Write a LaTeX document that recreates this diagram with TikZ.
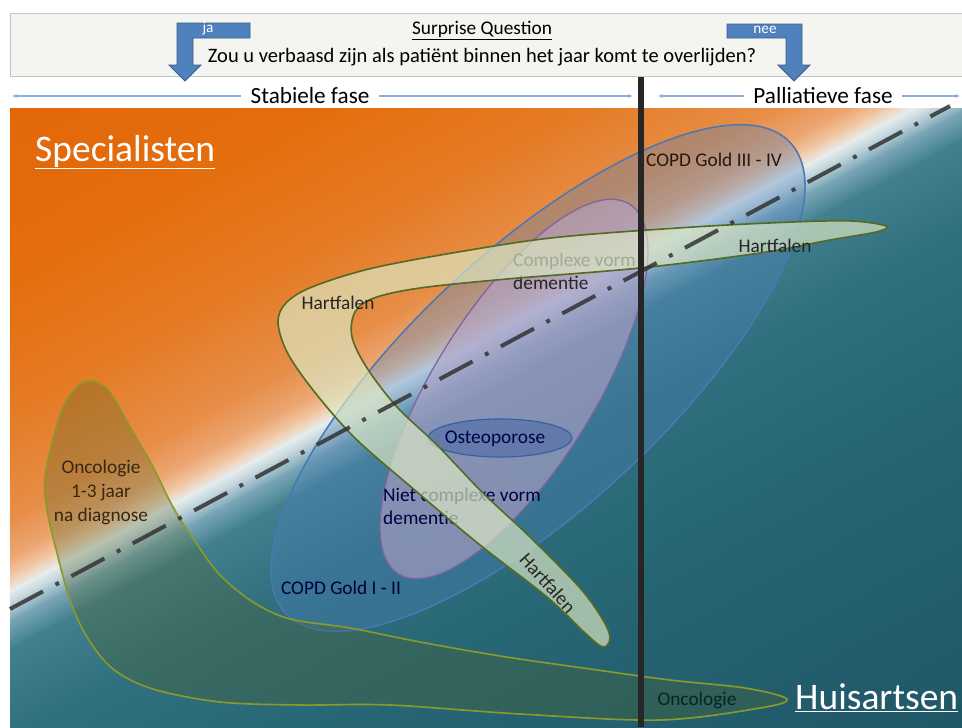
\documentclass[tikz,border=0pt]{standalone}
\usepackage{fontspec}
\setmainfont{Carlito}
\usetikzlibrary{arrows.meta}

\definecolor{bgA}{HTML}{E2660A}
\definecolor{bgB}{HTML}{E46D0C}
\definecolor{bgC}{HTML}{E57B25}
\definecolor{bgD}{HTML}{E78E48}
\definecolor{bgE}{HTML}{ECA774}
\definecolor{bgF}{HTML}{F2CBAA}
\definecolor{bgG}{HTML}{E6EDEE}
\definecolor{bgH}{HTML}{BCD1D9}
\definecolor{bgI}{HTML}{7AA6B6}
\definecolor{bgJ}{HTML}{42808F}
\definecolor{bgK}{HTML}{31707F}
\definecolor{bgL}{HTML}{276675}
\definecolor{bgM}{HTML}{1F5666}
\definecolor{hdrfill}{HTML}{F4F5F0}
\definecolor{hdredge}{HTML}{B9C7CE}
\definecolor{sqblue}{HTML}{4F81BD}
\definecolor{sqedge}{HTML}{385D8A}
\definecolor{phaseline}{HTML}{8FAADC}
\definecolor{copdblue}{HTML}{4F81BD}
\definecolor{copdedge}{HTML}{4A78B4}
\definecolor{demlila}{HTML}{B3A2C7}
\definecolor{demedge}{HTML}{8064A2}
\definecolor{osteoblue}{HTML}{3A5FA0}
\definecolor{hartgreen}{HTML}{DCE8C4}
\definecolor{hartedge}{HTML}{556B24}
\definecolor{oncofill}{HTML}{4F6228}
\definecolor{oncoedge}{HTML}{8A9A2A}

\begin{document}
\begin{tikzpicture}[x=0.03cm,y=-0.03cm,
  lab/.style={font=\fontsize{16.5}{19.5}\selectfont,inner sep=0pt},
  big/.style={font=\fontsize{32}{36}\selectfont,text=white,inner sep=0pt},
  phasetxt/.style={font=\fontsize{19.8}{22}\selectfont,inner sep=8pt},
  phase/.style={draw=phaseline,line width=1pt,-{Latex[length=4pt,width=3.5pt]}},
  bentarrow/.style={fill=sqblue,draw=sqedge,line width=0.8pt},
  copd/.style={draw=copdedge,line width=1.3pt,fill=copdblue,fill opacity=0.35},
  dem/.style={draw=demedge,line width=1.1pt,fill=demlila,fill opacity=0.6},
  osteo/.style={draw=osteoblue,line width=1pt,fill=osteoblue,fill opacity=0.45},
  hartf/.style={draw=hartedge,line width=1.4pt,fill=hartgreen,fill opacity=0.68},
  onco/.style={draw=oncoedge,line width=1.4pt,fill=oncofill,fill opacity=0.3}]

\useasboundingbox[fill=white] (0,0) rectangle (962,727);

% background: orange to teal across the dash-dot line
\begin{scope}
\clip (10,108) rectangle (962,727);
\begin{scope}[transform canvas={shift={(10,609)},rotate=28.15}]
\foreach \da/\db/\ca/\cb in {-470/-300/bgA/bgB,-300/-170/bgB/bgC,-170/-80/bgC/bgD,
  -80/-45/bgD/bgE,-45/-28/bgE/bgF,-28/-16/bgF/bgG,-16/-4/bgG/bgH,-4/10/bgH/bgI,
  10/35/bgI/bgJ,35/110/bgJ/bgK,110/250/bgK/bgL,250/580/bgL/bgM}
  \shade[top color=\ca,bottom color=\cb] (-150,\da) rectangle (1200,\db+1);
\end{scope}
\end{scope}

% header
\draw[hdredge,fill=hdrfill,line width=0.8pt] (10,13) rectangle (965,76);
\node[lab] (sq) at (482,31) {\underline{Surprise Question}};
\node[lab,font=\fontsize{17.5}{20}\selectfont] (vraag) at (482,57) {Zou u verbaasd zijn als patiënt binnen het jaar komt te overlijden?};
\draw[bentarrow] (177,23) -- (250,23) -- (250,38) -- (193,38) -- (193,65) -- (201,65)
  -- (185,81) -- (169,65) -- (177,65) -- cycle;
\draw[bentarrow] (802,24) -- (727,24) -- (727,38) -- (786,38) -- (786,65) -- (778,65)
  -- (794,81) -- (810,65) -- (802,65) -- cycle;
\node[lab,text=white,font=\fontsize{13}{15}\selectfont] (ja) at (208,29) {ja};
\node[lab,text=white,font=\fontsize{13}{15}\selectfont] (nee) at (765,30) {nee};

% phases
\node[phasetxt] (stab) at (310,96) {Stabiele fase};
\node[phasetxt] (pall) at (823,96) {Palliatieve fase};
\coordinate (sl) at (12,96);
\coordinate (sr) at (633,96);
\coordinate (pl) at (658,96);
\coordinate (pr) at (960,96);
\draw[phase] (stab) -- (sl);
\draw[phase] (stab) -- (sr);
\draw[phase] (pall) -- (pl);
\draw[phase] (pall) -- (pr);

% disease areas
\draw[copd,rotate around={43:(538,378)}] (538,378) ellipse [x radius=345,y radius=128];
\node[lab,text=black!80!brown,anchor=west] (copdb) at (646,160) {COPD Gold III - IV};
\node[lab,text=black!75!blue] (copda) at (341,588) {COPD Gold I - II};

\draw[dem,rotate around={58:(514,389)}] (514,389) ellipse [x radius=218,y radius=80];
\node[lab,align=left,anchor=west,text=black!85] (cdem) at (513,271) {Complexe vorm\\dementie};
\node[lab,align=left,anchor=west,text=black!75!blue] (ndem) at (383,506) {Niet complexe vorm\\dementie};

\draw[osteo] (500,438) ellipse [x radius=72,y radius=19];
\node[lab,text=black!70!blue] (osteo) at (495,439) {Osteoporose};

\draw[hartf] plot[smooth cycle,tension=0.55] coordinates {(886,226) (852,221) (793,222)
  (693,227) (560,237) (470,250) (373,268) (312,287) (286,303) (278,322) (287,352)
  (313,390) (355,438) (417,492) (480,545) (547,597) (585,633) (603,647) (610,638)
  (603,620) (580,588) (530,537) (483,493) (437,445) (397,407) (367,368) (352,337)
  (355,312) (374,298) (420,288) (507,279) (640,268) (760,253) (830,240) (876,232)};
\node[lab,text=black!85] (hart1) at (338,303) {Hartfalen};
\node[lab,text=black!85] (hart2) at (775,246) {Hartfalen};
\node[lab,text=black!85,rotate=-48] (hart3) at (548,583) {Hartfalen};

\draw[onco] plot[smooth cycle,tension=0.55] coordinates {(87,381) (108,390) (130,427)
  (153,467) (173,507) (194,540) (220,575) (253,602) (290,619) (350,628) (420,642)
  (500,656) (583,668) (670,680) (745,688) (787,699) (760,708) (660,720) (520,714)
  (390,705) (300,705) (220,702) (153,689) (113,669) (87,637) (70,600) (57,553)
  (47,510) (45,477) (56,428) (68,398)};
\node[lab,align=center,text=black!70!brown,font=\fontsize{16.5}{20.5}\selectfont] (onco1) at (101,492) {Oncologie\\1-3 jaar\\na diagnose};
\node[lab,text=black!70!teal] (onco2) at (697,700) {Oncologie};

% borderlines
\draw[black!80,opacity=0.85,line width=3.4pt,dash pattern=on 32pt off 12pt on 3.4pt off 12pt] (10,609) -- (950,106);
\draw[black!85,line width=4.3pt] (641,77) -- (641,727);

\node[big,anchor=base west] (spec) at (35,161) {\underline{Specialisten}};
\node[big,anchor=base west] (huis) at (795,709) {\underline{Huisartsen}};
\end{tikzpicture}
\end{document}
